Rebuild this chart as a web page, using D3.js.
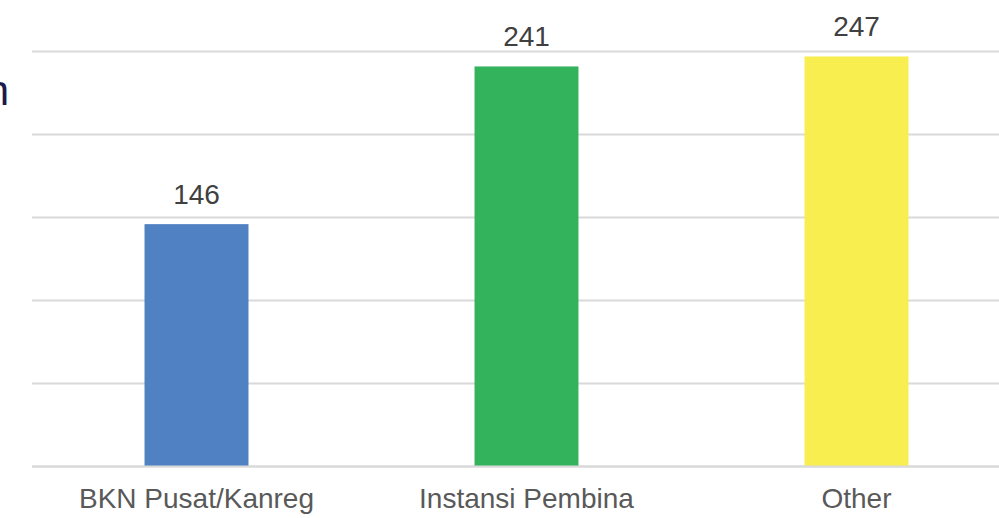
<!DOCTYPE html>
<html>
<head>
<meta charset="utf-8">
<script src="https://cdn.jsdelivr.net/npm/d3@7"></script>
<style>
  html, body { margin: 0; padding: 0; background: #fff; }
  svg { display: block; font-family: "Liberation Sans", Arial, sans-serif; }
</style>
</head>
<body>
<svg id="chart" width="999" height="518"></svg>
<script>
const categories = ["BKN Pusat/Kanreg", "Instansi Pembina", "Other"];
const values = [146, 241, 247];
const colors = ["#4f81c3", "#33b35b", "#f8ee50"];
const yTicks = [0, 50, 100, 150, 200, 250];

const svg = d3.select("#chart");

const x = d3.scaleBand()
  .domain(categories)
  .range([31.5, 1021.5])
  .paddingInner(0.685)
  .paddingOuter(0.3425);

const y = d3.scaleLinear().domain([0, 250]).range([466.5, 51.5]);

// horizontal gridlines
svg.append("g")
  .selectAll("line")
  .data(yTicks)
  .join("line")
  .attr("x1", 32)
  .attr("x2", 999)
  .attr("y1", d => y(d))
  .attr("y2", d => y(d))
  .attr("stroke", "#d9d9d9")
  .attr("stroke-width", 2);

// bars
svg.append("g")
  .selectAll("rect")
  .data(values)
  .join("rect")
  .attr("x", (d, i) => x(categories[i]))
  .attr("width", x.bandwidth())
  .attr("y", d => y(d))
  .attr("height", d => y(0) - y(d))
  .attr("fill", (d, i) => colors[i]);

// redraw the baseline over the bars
svg.append("line")
  .attr("x1", 32).attr("x2", 999)
  .attr("y1", y(0)).attr("y2", y(0))
  .attr("stroke", "#d9d9d9").attr("stroke-width", 2);

// value labels
svg.append("g")
  .selectAll("text")
  .data(values)
  .join("text")
  .attr("x", (d, i) => x(categories[i]) + x.bandwidth() / 2)
  .attr("y", d => y(d) - 20)
  .attr("text-anchor", "middle")
  .attr("font-size", 28)
  .attr("fill", "#404040")
  .text(d => d);

// category axis labels
svg.append("g")
  .selectAll("text")
  .data(categories)
  .join("text")
  .attr("x", d => x(d) + x.bandwidth() / 2)
  .attr("y", 508)
  .attr("text-anchor", "middle")
  .attr("font-size", 28)
  .attr("fill", "#595959")
  .text(d => d);

// tail of the title, clipped at the left edge
svg.append("text")
  .attr("x", 9)
  .attr("y", 105)
  .attr("text-anchor", "end")
  .attr("font-size", 42)
  .attr("fill", "#1b1a4d")
  .text("n");
</script>
</body>
</html>
